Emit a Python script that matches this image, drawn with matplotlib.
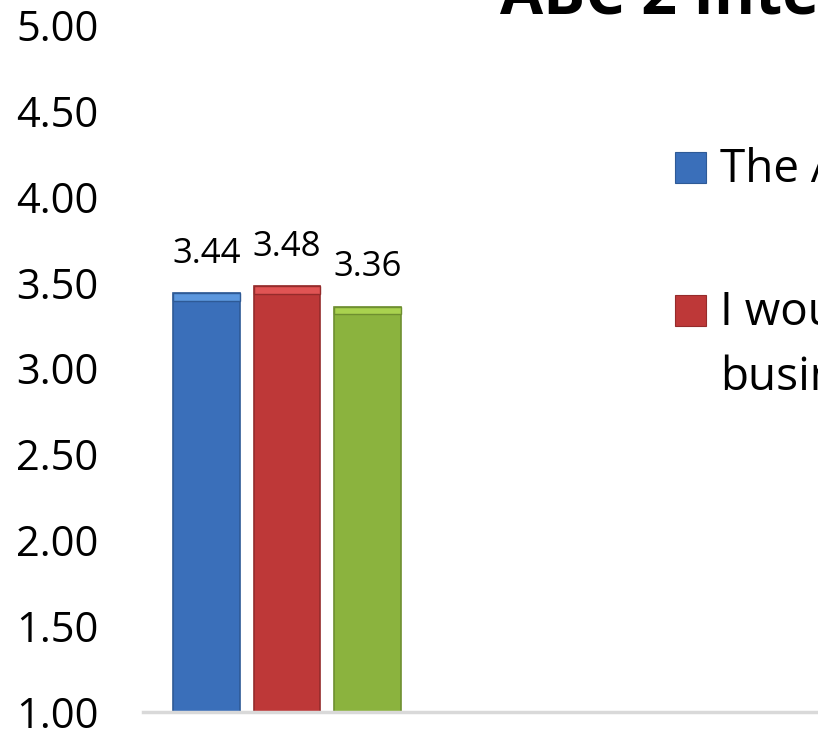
import matplotlib.pyplot as plt
from matplotlib.patches import Rectangle

plt.rcParams['font.family'] = ['Open Sans', 'DejaVu Sans']

# survey averages (1-5 scale)
scores = [3.44, 3.48, 3.36]
bar_colors = ['#3A6FBA', '#BE3838', '#8BB33E']
bevel_colors = ['#5C97DE', '#E05454', '#A9D24F']
edge_colors = ['#2E5A96', '#952B2B', '#6E8F30']
legend_labels = ['The ABC 2 Interface is easy to use',
                 'I would use ABC 2 for my\nbusiness']
yticks = [1.0, 1.5, 2.0, 2.5, 3.0, 3.5, 4.0, 4.5, 5.0]

W, H = 818, 730
fig = plt.figure(figsize=(W / 100, H / 100), dpi=100)
ax = fig.add_axes([143 / W, 18 / H, 675 / W, 687 / H])

xs = list(range(len(scores)))
bw = 0.83
for x, v, c, bc, ec in zip(xs, scores, bar_colors, bevel_colors, edge_colors):
    ax.bar(x, v - 1, bottom=1, width=bw, color=c, edgecolor=ec, linewidth=1.2, zorder=2)
    # lighter bevel strip on top of each bar
    ax.bar(x, 0.045, bottom=v - 0.045, width=bw, color=bc, edgecolor=ec,
           linewidth=1.0, zorder=3)
    ax.annotate(f'{v:.2f}', (x, v), xytext=(0, 16), textcoords='offset points',
                ha='center', va='bottom', fontsize=25)

ax.set_xlim(-0.789, 7.596)
ax.set_ylim(1, 5)
ax.set_yticks(yticks)
ax.set_yticklabels([f'{t:.2f}' for t in yticks], fontsize=30)
ax.tick_params(axis='y', length=0, pad=32)
ax.tick_params(axis='x', bottom=False, labelbottom=False)
for s in ['top', 'right', 'left']:
    ax.spines[s].set_visible(False)
ax.spines['bottom'].set_color('#D9D9D9')
ax.spines['bottom'].set_linewidth(2.5)

# legend drawn by hand so the square sits on the first line of a wrapped label
legend_rows = [182, 325]
line_step = 65
for lab, c, ec, base in zip(legend_labels, bar_colors, edge_colors, legend_rows):
    fig.patches.append(Rectangle((675 / W, 1 - (base + 1) / H), 31 / W, 31 / H,
                                 transform=fig.transFigure, facecolor=c,
                                 edgecolor=ec, linewidth=0.8))
    for i, line in enumerate(lab.split('\n')):
        fig.text(720 / W, 1 - (base + i * line_step) / H, line, fontsize=33,
                 va='baseline', ha='left')

fig.text(500 / W, 1 - 13 / H, 'ABC 2 Interface', fontsize=45, fontweight='bold',
         va='baseline', ha='left')

fig.savefig('out.png', dpi=100)
